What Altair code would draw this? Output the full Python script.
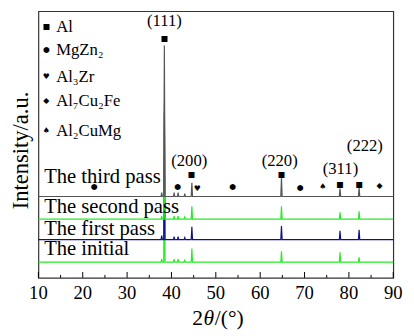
import altair as alt
import pandas as pd

# ---- data ----
series = ["The initial", "The first pass", "The second pass", "The third pass"]
offsets = [16, 39, 60, 83]
colors = ["#22ee22", "#10108e", "#22ee22", "#555555"]

peak_pos = [37.8, 38.4, 40.6, 41.5, 43.0, 44.6, 64.8, 78.0, 82.3]
heights = {
    "The initial":     [3, 110, 3, 3, 2, 14, 11, 10, 5],
    "The first pass":  [4, 130, 3, 3, 2, 13, 14, 9, 10],
    "The second pass": [3, 120, 3, 3, 2, 13, 13, 7, 8],
    "The third pass":  [4, 154, 4, 4, 3, 14, 19, 8, 9],
}
half_width = 0.15
x_min, x_max = 10, 90
tick_values = [10, 20, 30, 40, 50, 60, 70, 80, 90]
minor_values = [15, 25, 35, 45, 55, 65, 75, 85]

# phase markers
mk_x = [38.4, 44.5, 64.8, 78.0, 82.3, 22.6, 41.4, 53.8, 69.0, 45.8, 74.1, 86.9]
mk_y = [244, 105, 105, 95, 95, 93, 93, 93, 92, 91, 93, 94]
mk_g = ["■", "■", "■", "■", "■", "●", "●", "●", "●", "♥", "♠", "◆"]

# peak labels
pl_text = ["(111)", "(200)", "(220)", "(311)", "(222)"]
pl_x = [38.4, 44.0, 64.4, 78.1, 83.6]
pl_y = [262, 119, 119, 111, 134]

# series labels
sl_y = [29, 50, 72, 103]

# legend
lg_glyph = ["■", "●", "♥", "◆", "♠"]
lg_text = ["Al", "MgZn₂", "Al₃Zr", "Al₇Cu₂Fe", "Al₂CuMg"]
lg_y = [256, 232, 205, 180, 150]

# ---- build tables ----
rows = []
for si, s in enumerate(series):
    off = offsets[si]
    pts = [(x_min, 0)]
    for p, h in zip(peak_pos, heights[s]):
        pts += [(p - half_width, 0), (p, h), (p + half_width, 0)]
    pts.append((x_max, 0))
    for k, (x, y) in enumerate(pts):
        rows.append({"s": s, "k": k, "x": x, "y": y + off})
lines = pd.DataFrame(rows)

markers = pd.DataFrame({"x": mk_x, "y": mk_y, "g": mk_g})
plabels = pd.DataFrame({"x": pl_x, "y": pl_y, "t": pl_text})
slabels = pd.DataFrame({"x": [11.3] * 4, "y": sl_y, "t": series})
legend = pd.DataFrame({"g": lg_glyph, "t": lg_text, "y": lg_y,
                       "gx": [11.8] * 5, "tx": [14.0] * 5})
major = pd.DataFrame({"x": tick_values, "t": [str(v) for v in tick_values]})
minor = pd.DataFrame({"x": minor_values})

xs = alt.Scale(domain=[x_min, x_max], nice=False, zero=False)
ys = alt.Scale(domain=[0, 272], nice=False, zero=False)
SERIF = "Liberation Serif"

X = lambda f: alt.X(f, scale=xs, axis=None)
Y = lambda f: alt.Y(f, scale=ys, axis=None)

layers = []
for i, s in enumerate(series):
    layers.append(
        alt.Chart(lines[lines.s == s]).mark_line(strokeWidth=1.2, color=colors[i]).encode(
            x=X("x:Q"), y=Y("y:Q"), order="k:Q")
    )

ticks_major = alt.Chart(major).mark_rule(color="black").encode(
    x=X("x:Q"), y=alt.value(272), y2=alt.value(266))
ticks_minor = alt.Chart(minor).mark_rule(color="black").encode(
    x=X("x:Q"), y=alt.value(272), y2=alt.value(269))
tick_labels = alt.Chart(major).mark_text(font=SERIF, fontSize=19, color="black",
                                         baseline="middle").encode(
    x=X("x:Q"), y=alt.value(288), text="t:N")

# x title: 2θ/(°) with italic θ
xt = pd.DataFrame({"t": ["2", "θ", "/(°)"], "px": [157, 168.5, 180],
                   "it": ["normal", "italic", "normal"]})
x_title = [
    alt.Chart(xt.iloc[[i]]).mark_text(font=SERIF, fontSize=22, color="black",
                                      align="left", baseline="middle",
                                      fontStyle=xt.it[i]).encode(
        x=alt.value(float(xt.px[i])), y=alt.value(313), text="t:N")
    for i in range(3)
]
y_title = alt.Chart(pd.DataFrame({"t": ["Intensity/a.u."]})).mark_text(
    font=SERIF, fontSize=23, color="black", angle=270, baseline="middle").encode(
    x=alt.value(-18), y=alt.value(142), text="t:N")

def txt(df, xf, text, font, size, align="center"):
    return alt.Chart(df).mark_text(font=font, fontSize=size, color="black",
                                   align=align, baseline="middle").encode(
        x=X(xf), y=Y("y:Q"), text=text)

mk = txt(markers, "x:Q", "g:N", "DejaVu Sans", 8)
pl = txt(plabels, "x:Q", "t:N", SERIF, 17)
sl = txt(slabels, "x:Q", "t:N", SERIF, 21, "left")
lg_g = txt(legend, "gx:Q", "g:N", "DejaVu Sans", 8)
lg_t = txt(legend, "tx:Q", "t:N", SERIF, 17, "left")

chart = alt.layer(*layers, ticks_major, ticks_minor, tick_labels, *x_title, y_title,
                  mk, pl, sl, lg_g, lg_t).properties(
    width=362, height=272,
    autosize=alt.AutoSizeParams(type="none"),
    padding={"left": 31, "top": 0, "right": 13, "bottom": 56},
    background="white",
).configure_view(stroke="#333333", strokeWidth=1.2)

chart.save("out.html", embed_options={"renderer": "svg", "actions": False})
